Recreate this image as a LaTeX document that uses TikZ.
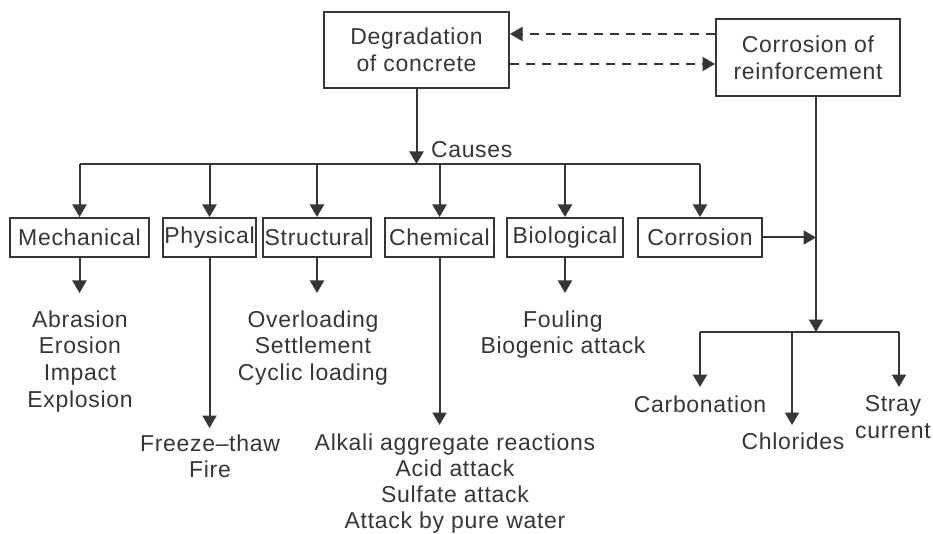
\documentclass[tikz,border=0pt]{standalone}
\usepackage{fontspec}
\setmainfont{Liberation Sans}[LetterSpace=3]
\usetikzlibrary{arrows.meta,calc}
\definecolor{ink}{HTML}{363636}
\begin{document}
\begin{tikzpicture}[x=1pt,y=-1pt,
  line width=2pt, color=ink,
  arr/.style={-{Triangle[width=14pt,length=12.5pt]}},
  txtfont/.style={font=\fontsize{23}{26.7}\selectfont},
  box/.style={draw=ink,line width=2pt,inner sep=0pt,text=ink,txtfont,align=center},
  cat/.style={box,minimum height=39pt},
  lst/.style={inner sep=0pt,text=ink,txtfont,align=center,anchor=north},
  dsh/.style={dash pattern=on 9pt off 7pt}]
\useasboundingbox (0,0) rectangle (933,534);

% top boxes
\node[box,minimum width=185pt,minimum height=76pt] (deg) at (416.5,50) {Degradation\\of concrete};
\node[box,minimum width=184pt,minimum height=77pt] (cr) at (808,57.5) {Corrosion of\\reinforcement};

\draw[arr,dsh] (cr.west |- 0,34) -- (deg.east |- 0,34);
\draw[arr,dsh] (deg.east |- 0,64) -- (cr.west |- 0,64);

% categories
\node[cat,minimum width=139pt] (mech) at (79.5,237.5) {Mechanical};
\node[cat,minimum width=93pt] (phys) at (209.5,237.5) {Physical};
\node[cat,minimum width=108pt] (struc) at (317,237.5) {Structural};
\node[cat,minimum width=109pt] (chem) at (439.5,237.5) {Chemical};
\node[cat,minimum width=116pt] (bio) at (565,237.5) {Biological};
\node[cat,minimum width=124pt] (corr) at (700,237.5) {Corrosion};

\coordinate (bus) at (0,164);
\draw[arr] (deg.south) -- (deg.south |- bus);
\node[lst,anchor=west] (causes) at (430,150) {Causes};
\draw (mech.north |- bus) -- (corr.north |- bus);
\foreach \n in {mech,phys,struc,chem,bio,corr}
  \draw[arr] (\n.north |- bus) -- (\n.north);

% lists
\node[lst] (mechl) at (80,309.5) {Abrasion\\Erosion\\Impact\\Explosion};
\node[lst] (strucl) at (313,309.5) {Overloading\\Settlement\\Cyclic loading};
\node[lst] (biol) at (563,309.5) {Fouling\\Biogenic attack};
\node[lst] (physl) at (210,433.5) {Freeze--thaw\\Fire};
\node[lst,font=\fontsize{23}{26.2}\selectfont] (chemll) at (455,432.5) {Alkali aggregate reactions\\Acid attack\\Sulfate attack\\Attack by pure water};

\draw[arr,shorten >=16.5pt] (mech.south) -- (mech.south |- mechl.north);
\draw[arr,shorten >=16.5pt] (struc.south) -- (struc.south |- strucl.north);
\draw[arr,shorten >=16.5pt] (bio.south) -- (bio.south |- biol.north);
\draw[arr,shorten >=5.5pt] (phys.south) -- (phys.south |- physl.north);
\draw[arr,shorten >=7.5pt] (chem.south) -- (chem.south |- chemll.north);

% corrosion of reinforcement branch
\coordinate (v) at ([xshift=8pt]cr.south);
\coordinate (j) at (v |- corr.east);
\draw[arr] (corr.east) -- (j);
\coordinate (b2) at (v |- 0,332);
\draw[arr] (v) -- (b2);

\node[lst] (carb) at (700,394.5) {Carbonation};
\node[lst] (chl) at (793,431.5) {Chlorides};
\node[lst] (stray) at (893,394.5) {Stray\\current};
\coordinate (sx) at ([xshift=6pt]stray.north);
\coordinate (cx) at ([xshift=-1pt]chl.north);
\draw (carb.north |- b2) -- (sx |- b2);
\draw[arr,shorten >=7.5pt] (carb.north |- b2) -- (carb.north);
\draw[arr,shorten >=6.5pt] (cx |- b2) -- (cx);
\draw[arr,shorten >=7.5pt] (sx |- b2) -- (sx);
\end{tikzpicture}
\end{document}
